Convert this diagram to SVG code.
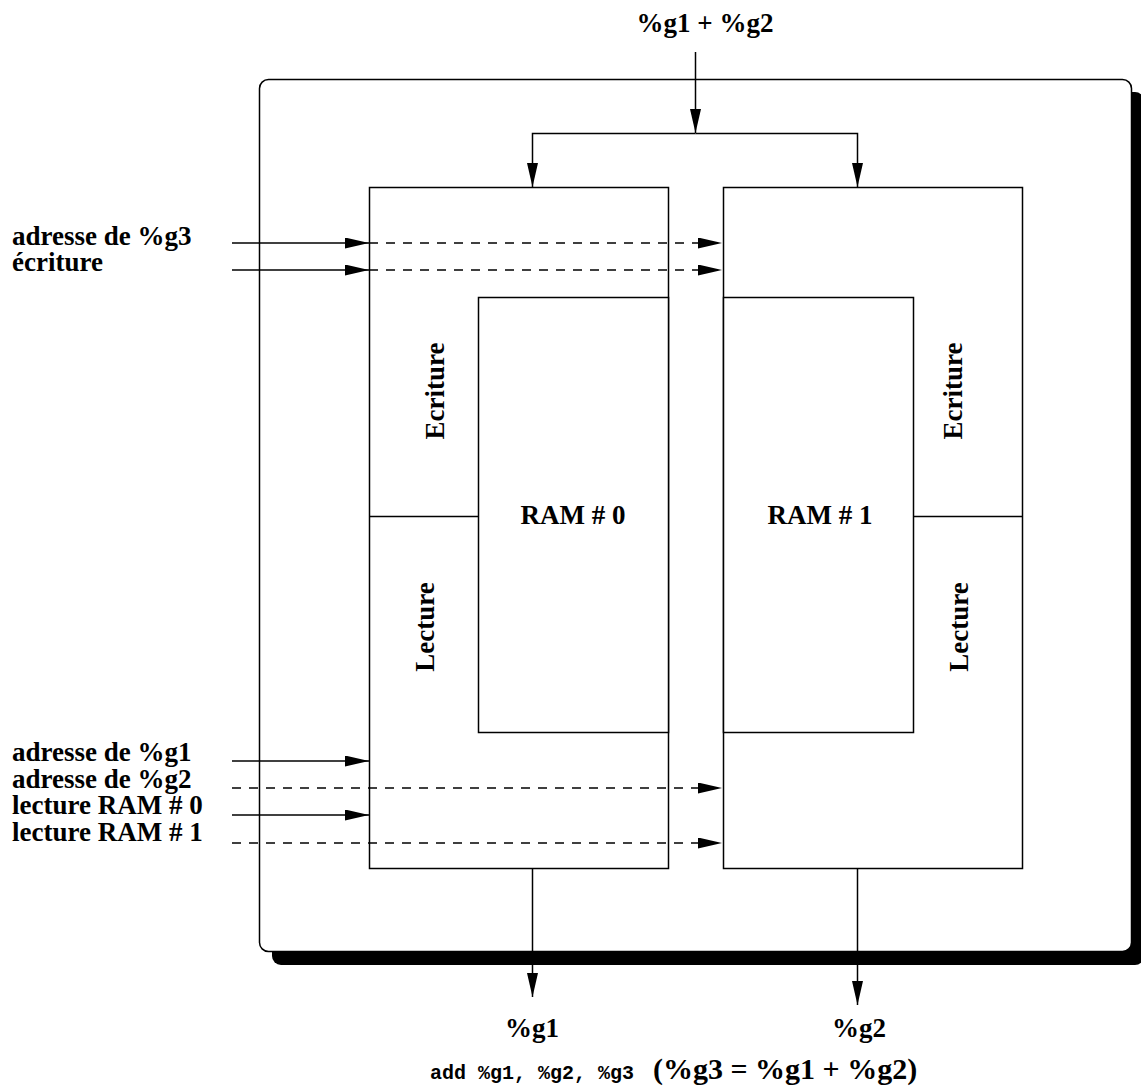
<svg xmlns="http://www.w3.org/2000/svg" width="1141" height="1090" viewBox="0 0 1141 1090">
<style>
.box{fill:#fff;stroke:#000;stroke-width:1.5}
.ln{fill:none;stroke:#000;stroke-width:1.5}
.dash{stroke-dasharray:9,8}
.t{font-family:"Liberation Serif","Times New Roman",serif;font-weight:bold;font-size:27px;fill:#000}
.m{font-family:"Liberation Mono","Courier New",monospace;font-weight:bold;font-size:20px;fill:#000}
.mid{text-anchor:middle}
</style>
<defs>
<marker id="ah" markerUnits="userSpaceOnUse" markerWidth="24" markerHeight="11" refX="24" refY="5.5" orient="auto">
<path d="M0,0 L24,5.5 L0,11 z" fill="#000"/>
</marker>
</defs>
<g id="frame">
<rect x="272" y="92" width="872" height="873" rx="9" fill="#000"/>
<rect class="box" x="259.5" y="79.5" width="872" height="872" rx="9"/>
</g>
<g id="block0">
<rect class="box" x="369.5" y="187.5" width="299" height="681"/>
<line class="ln" x1="369.5" y1="516.5" x2="478.5" y2="516.5"/>
<text class="t mid" transform="translate(444,391) rotate(-90)">Ecriture</text>
<text class="t mid" transform="translate(434,627) rotate(-90)">Lecture</text>
</g>
<g id="block1">
<rect class="box" x="723.5" y="187.5" width="299" height="681"/>
<line class="ln" x1="913.5" y1="516.5" x2="1022.5" y2="516.5"/>
<text class="t mid" transform="translate(962,391) rotate(-90)">Ecriture</text>
<text class="t mid" transform="translate(968,627) rotate(-90)">Lecture</text>
</g>
<g id="ram0">
<rect class="box" x="478.5" y="297.5" width="190" height="435"/>
<text class="t mid" x="573" y="524">RAM # 0</text>
</g>
<g id="ram1">
<rect class="box" x="723.5" y="297.5" width="190" height="435"/>
<text class="t mid" x="820" y="524">RAM # 1</text>
</g>
<g id="connectors">
<path class="ln" d="M695.5,52 V133" marker-end="url(#ah)"/>
<path class="ln" d="M695.5,133.5 H532.5 V187" marker-end="url(#ah)"/>
<path class="ln" d="M695.5,133.5 H857.5 V187" marker-end="url(#ah)"/>
<path class="ln" d="M232,243 H369" marker-end="url(#ah)"/>
<path class="ln dash" d="M369,243 H722" marker-end="url(#ah)"/>
<path class="ln" d="M232,270 H369" marker-end="url(#ah)"/>
<path class="ln dash" d="M369,270 H722" marker-end="url(#ah)"/>
<path class="ln" d="M232,761 H369" marker-end="url(#ah)"/>
<path class="ln dash" d="M232,788 H722" marker-end="url(#ah)"/>
<path class="ln" d="M232,815 H369" marker-end="url(#ah)"/>
<path class="ln dash" d="M232,843 H722" marker-end="url(#ah)"/>
<path class="ln" d="M532.5,869 V997" marker-end="url(#ah)"/>
<path class="ln" d="M857.5,869 V1005" marker-end="url(#ah)"/>
</g>
<g id="labels">
<text class="t mid" x="705" y="32">%g1 + %g2</text>
<text class="t" x="12" y="245">adresse de %g3</text>
<text class="t" x="12" y="271">écriture</text>
<text class="t" x="12" y="761">adresse de %g1</text>
<text class="t" x="12" y="788">adresse de %g2</text>
<text class="t" x="12" y="814">lecture RAM # 0</text>
<text class="t" x="12" y="841">lecture RAM # 1</text>
<text class="t mid" x="532" y="1037">%g1</text>
<text class="t mid" x="859" y="1037">%g2</text>
<text y="1079"><tspan class="m" x="430">add %g1, %g2, %g3</tspan><tspan class="t" x="653" style="font-size:30px">(%g3 = %g1 + %g2)</tspan></text>
</g>
</svg>
